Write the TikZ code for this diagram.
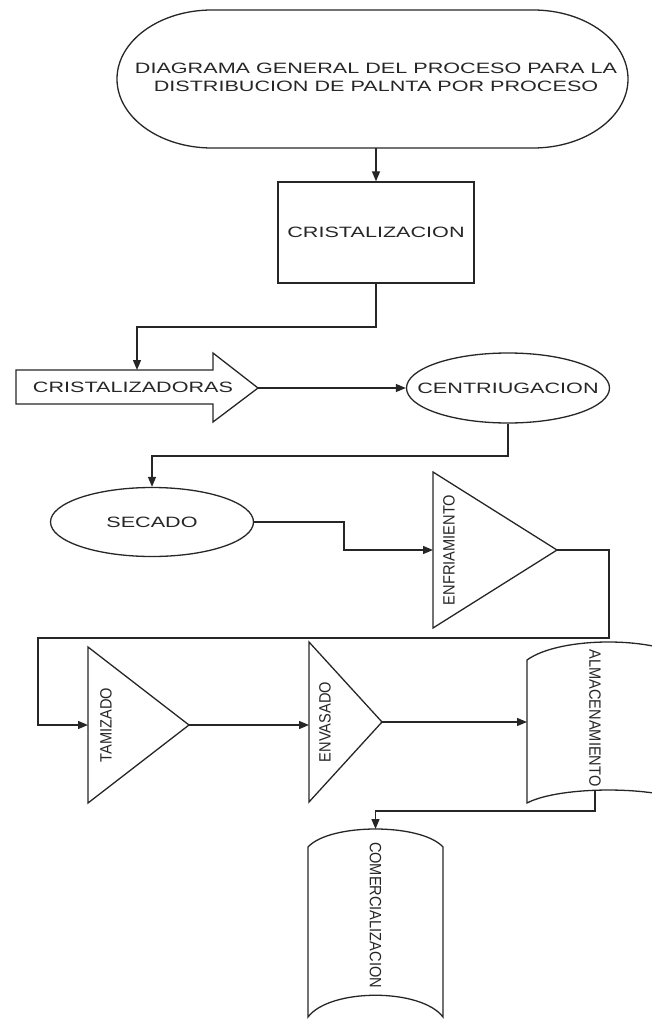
\documentclass[tikz,border=0pt]{standalone}
\usepackage{fontspec}
\setmainfont{Liberation Sans}
\usetikzlibrary{arrows.meta,shapes.geometric}
\newcommand\wtext[1]{\scalebox{1.44}[1]{#1}}
\newcommand\vtext[1]{\scalebox{1}[1.12]{#1}}
\begin{document}
\begin{tikzpicture}[x=1pt,y=-1pt,
  shp/.style={draw=black!85, line width=1.3pt},
  conn/.style={draw=black!85, line width=1.3pt, -{Triangle[length=10pt,width=8pt]}},
  lbl/.style={text=black!85, font=\fontsize{15}{18}\selectfont, inner sep=0pt},
  vlbl/.style={text=black!85, font=\fontsize{14.6}{17}\selectfont, inner sep=0pt},
  boxs/.style={shp, lbl, inner sep=0pt},
  ell/.style={shp, ellipse, inner sep=0pt, minimum width=203pt, minimum height=70pt}
  ]
\useasboundingbox (0,0) rectangle (652,1019);
\clip (0,0) rectangle (652,1019);

% title (stadium)
\node[minimum width=511pt, minimum height=138pt, inner sep=0pt] (title) at (372.5,79) {};
\draw[shp] (212,10) -- (533,10) arc[start angle=-90,end angle=90,x radius=95,y radius=69]
  -- (212,148) arc[start angle=90,end angle=270,x radius=95,y radius=69] -- cycle;
\node[lbl, align=center] (titletext) at (376,77)
  {\wtext{DIAGRAMA GENERAL DEL PROCESO PARA LA}\\ \wtext{DISTRIBUCION DE PALNTA POR PROCESO}};

% cristalizacion box
\node[boxs, minimum width=196pt, minimum height=101pt] (box) at (376,232.5) {\wtext{CRISTALIZACION}};
\draw[conn] (title.south -| box.north) -- (box.north);

% block arrow cristalizadoras
\coordinate (czTop) at (137,370);
\coordinate (czTip) at (258,388);
\draw[shp] (16,370) -- (213,370) -- (213,353) -- (czTip) -- (213,422) -- (213,404) -- (16,404) -- cycle;
\node[lbl] (cz) at (133,387) {\wtext{CRISTALIZADORAS}};
\draw[conn] (box.south) -- (376,327) -| (czTop);

% centrifugacion
\node[ell, label={[lbl]center:\wtext{CENTRIUGACION}}] (cen) at (508,388) {};
\draw[conn] (czTip) -- (cen.west);

% secado
\node[ell, minimum height=69pt, label={[lbl]center:\wtext{SECADO}}] (sec) at (152,522) {};
\draw[conn] (cen.south) -- (508,456) -| (sec.north);

% enfriamiento
\coordinate (enfIn) at (433,550);
\coordinate (enfTip) at (557,550);
\draw[shp] (433,472) -- (enfTip) -- (433,628) -- cycle;
\node[vlbl, rotate=90] (enf) at (449,550) {\vtext{ENFRIAMIENTO}};
\draw[conn] (sec.east) -- (344,522) |- (enfIn);

% tamizado
\coordinate (tamIn) at (88,725);
\coordinate (tamTip) at (189,725);
\draw[shp] (88,647) -- (tamTip) -- (88,803) -- cycle;
\node[vlbl, rotate=90] (tam) at (106,725) {\vtext{TAMIZADO}};
\draw[conn] (enfTip) -- (609,550) -- (609,638) -- (38,638) -- (38,725) -- (tamIn);

% envasado
\coordinate (envIn) at (309,725);
\coordinate (envTip) at (382,722);
\draw[shp] (309,642) -- (envTip) -- (309,802) -- cycle;
\node[vlbl, rotate=90] (env) at (325,722) {\vtext{ENVASADO}};
\draw[conn] (tamTip) -- (envIn);

% almacenamiento
\coordinate (almIn) at (527,722);
\coordinate (almOut) at (595,791);
\draw[shp] (527,803) -- (527,660) .. controls (560,636) and (657,636) .. (690,660)
  -- (690,803) .. controls (657,785.7) and (560,785.7) .. (527,803) -- cycle;
\node[vlbl, rotate=-90] (alm) at (595,718) {\vtext{ALMACENAMIENTO}};
\draw[conn] (envTip) -- (almIn);

% comercializacion
\coordinate (comTop) at (375.5,829);
\draw[shp] (308,1017) -- (308,847) .. controls (330,823) and (421,823) .. (443,847)
  -- (443,1017) .. controls (421,988) and (330,988) .. (308,1017) -- cycle;
\node[vlbl, rotate=-90] (com) at (375.5,915) {\vtext{COMERCIALIZACION}};
\draw[conn] (almOut) -- (595,811) -| (comTop);
\end{tikzpicture}
\end{document}
